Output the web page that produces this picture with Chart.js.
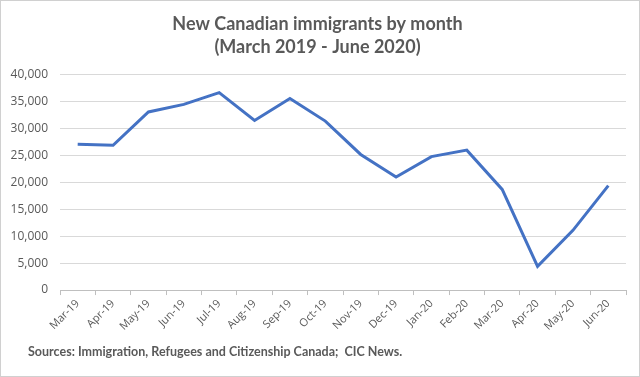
<!DOCTYPE html>
<html>
<head>
<meta charset="utf-8">
<script src="https://cdn.jsdelivr.net/npm/chart.js@4/dist/chart.umd.min.js"></script>
<style>
  html, body { margin: 0; padding: 0; background: #fff; }
  #wrap { width: 640px; height: 377px; box-sizing: border-box; border: 1px solid #d0d0d0; }
</style>
</head>
<body>
<div id="wrap"><canvas id="immig" width="638" height="375"></canvas></div>
<script>
var months = ["Mar-19", "Apr-19", "May-19", "Jun-19", "Jul-19", "Aug-19", "Sep-19", "Oct-19",
              "Nov-19", "Dec-19", "Jan-20", "Feb-20", "Mar-20", "Apr-20", "May-20", "Jun-20"];
var immigrants = [27100, 26900, 33100, 34500, 36700, 31500, 35600, 31400,
                  25200, 21000, 24800, 26000, 18700, 4400, 11100, 19400];
var yTicks = [0, 5000, 10000, 15000, 20000, 25000, 30000, 35000, 40000];
var sourceNote = 'Sources: Immigration, Refugees and Citizenship Canada;  CIC News.';

var grey = '#595959';

// source line under the chart, left aligned like the original
var sourcePlugin = {
    id: 'sourceNote',
    afterDraw: function (chart) {
        var ctx = chart.ctx;
        ctx.save();
        ctx.fillStyle = grey;
        ctx.font = 'bold 12.5px Lato';
        ctx.textBaseline = 'middle';
        ctx.textAlign = 'left';
        ctx.fillText(sourceNote, 27, 351);
        ctx.restore();
    }
};

var immigChart = new Chart(document.getElementById('immig'), {
    type: 'line',
    data: {
        labels: months,
        datasets: [
            {
                label: 'New immigrants',
                data: immigrants,
                borderColor: '#4472C4',
                borderWidth: 3,
                pointRadius: 0,
                tension: 0,
                fill: false
            }
        ]
    },
    options: {
        responsive: false,
        animation: false,
        layout: { padding: { left: 8, right: 13, top: 4, bottom: 41 } },
        plugins: {
            legend: { display: false },
            tooltip: { enabled: false },
            title: {
                display: true,
                text: ['New Canadian immigrants by month', '(March 2019 - June 2020)'],
                color: grey,
                font: { family: 'Lato', size: 18, weight: 'bold', lineHeight: 1.3 },
                padding: { top: 7, bottom: 16 }
            }
        },
        scales: {
            x: {
                offset: true,
                grid: { display: true, drawOnChartArea: false, offset: true, tickLength: 5, color: '#bfbfbf' },
                border: { display: true, color: '#bfbfbf' },
                ticks: {
                    color: grey,
                    font: { family: 'Open Sans', size: 11 },
                    maxRotation: 45,
                    minRotation: 45,
                    padding: 2
                }
            },
            y: {
                min: 0,
                max: 40000,
                afterBuildTicks: function (axis) {
                    axis.ticks = yTicks.map(function (v) { return { value: v }; });
                },
                afterFit: function (axis) { axis.width = 51; },
                grid: { color: '#d9d9d9', drawTicks: false },
                border: { display: false },
                ticks: {
                    color: grey,
                    font: { family: 'Open Sans', size: 12 },
                    padding: 12,
                    callback: function (v) { return v.toLocaleString('en-US'); }
                }
            }
        }
    },
    plugins: [sourcePlugin]
});
</script>
</body>
</html>
